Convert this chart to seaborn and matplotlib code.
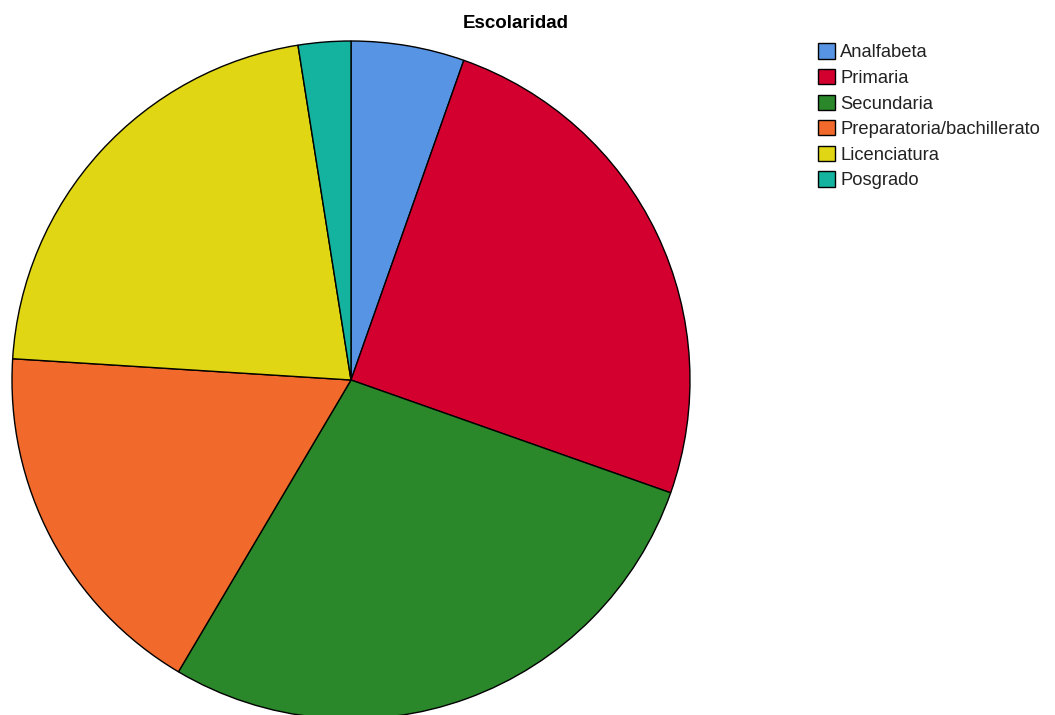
import matplotlib
matplotlib.use("Agg")
import matplotlib.pyplot as plt
import seaborn as sns
from matplotlib.patches import Patch

# escolaridad - porcentajes
categorias = ["Analfabeta", "Primaria", "Secundaria",
              "Preparatoria/bachillerato", "Licenciatura", "Posgrado"]
porcentajes = [5.4, 25.0, 28.1, 17.5, 21.5, 2.5]
colores = ["#5894E4", "#D3002F", "#2A882A", "#F26A2B", "#E0D614", "#14B39F"]

sns.set_style("white")
plt.rcParams['font.family'] = ['Liberation Sans', 'DejaVu Sans']

fig = plt.figure(figsize=(10.55, 7.15), dpi=100)
ax = fig.add_axes([0, 0, 1, 1])
ax.set_xlim(0, 1055)
ax.set_ylim(0, 715)
ax.set_aspect("equal")
ax.axis("off")

pal = sns.color_palette(colores)
ax.pie(porcentajes, colors=pal, startangle=90, counterclock=False,
       center=(351, 335), radius=339,
       wedgeprops=dict(edgecolor="black", linewidth=1.0))
ax.set_xlim(0, 1055)
ax.set_ylim(0, 715)

fig.text(516 / 1055, 1 - 23 / 715, "Escolaridad", ha="center", va="center",
         fontsize=13.5, fontweight="bold", color="black")

handles = [Patch(facecolor=c, edgecolor="black", linewidth=1.0) for c in pal]
leg = fig.legend(handles, categorias, loc="upper left",
                 bbox_to_anchor=(811 / 1055, 1 - 36 / 715), frameon=False,
                 fontsize=13.2, handlelength=0.9, handleheight=0.9,
                 handletextpad=0.3, labelspacing=0.42, borderaxespad=0)
for t in leg.get_texts():
    t.set_color("#222222")

fig.savefig("out.png", dpi=100)
